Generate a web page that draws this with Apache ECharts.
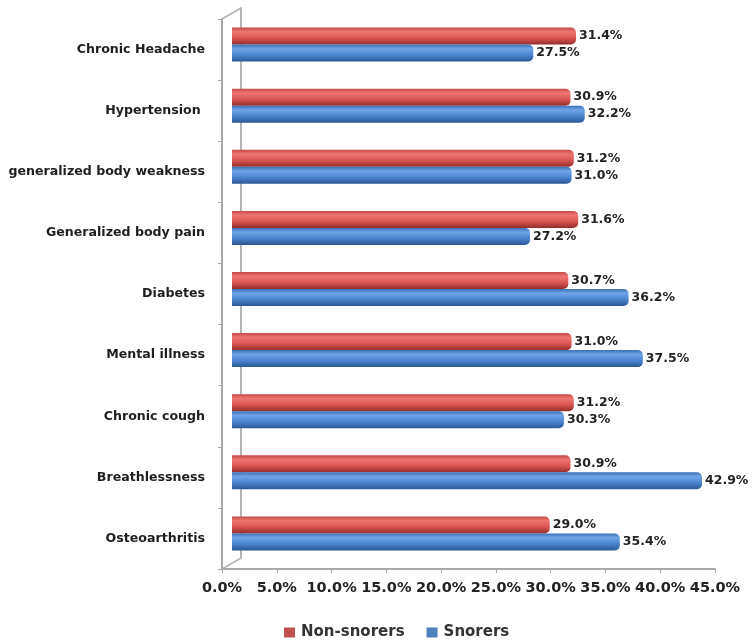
<!DOCTYPE html>
<html>
<head>
<meta charset="utf-8">
<script src="https://cdn.jsdelivr.net/npm/echarts@6/dist/echarts.min.js"></script>
<style>
  html, body { margin: 0; padding: 0; background: #fff; }
  #chart { width: 753px; height: 643px; }
</style>
</head>
<body>
<div id="chart"></div>
<script>
// categories top to bottom
const categories = [
  'Chronic Headache',
  'Hypertension ',
  'generalized body weakness',
  'Generalized body pain',
  'Diabetes',
  'Mental illness',
  'Chronic cough',
  'Breathlessness',
  'Osteoarthritis'
]
const nonSnorers = [31.4, 30.9, 31.2, 31.6, 30.7, 31.0, 31.2, 30.9, 29.0]
const snorers = [27.5, 32.2, 31.0, 27.2, 36.2, 37.5, 30.3, 42.9, 35.4]
const xTicks = { min: 0, max: 45, interval: 5 }

const font = 'DejaVu Sans'
const axisGray = '#a8a8a8'

// cylinder look: light band near the top, dark underside
function tube (edge, light, mid, dark) {
  return new echarts.graphic.LinearGradient(0, 0, 0, 1, [
    { offset: 0, color: edge },
    { offset: 0.25, color: light },
    { offset: 0.6, color: mid },
    { offset: 1, color: dark }
  ])
}

const barLabel = {
  show: true,
  position: 'right',
  distance: 3,
  color: '#222',
  fontFamily: font,
  fontWeight: 'bold',
  fontSize: 12.5,
  formatter: p => p.value.toFixed(1) + '%'
}

const chart = echarts.init(document.getElementById('chart'))
chart.setOption({
  animation: false,
  legend: {
    left: 279,
    top: 620,
    itemWidth: 11,
    itemHeight: 10,
    itemGap: 22,
    icon: 'rect',
    textStyle: { fontFamily: font, fontSize: 15, fontWeight: 'bold', color: '#333', padding: [0, 0, 0, 1] },
    data: [
      { name: 'Non-snorers', itemStyle: { color: '#C0504D' } },
      { name: 'Snorers', itemStyle: { color: '#4F81BD' } }
    ]
  },
  grid: [
    // front walls with labels
    { left: 222, top: 19, width: 493, height: 550 },
    // bars sit a little deeper in the box
    { left: 232, top: 14, width: 493, height: 550 },
    // back wall
    { left: 241, top: 8, width: 493, height: 550 }
  ],
  xAxis: [
    {
      gridIndex: 0,
      type: 'value',
      min: xTicks.min,
      max: xTicks.max,
      interval: xTicks.interval,
      splitLine: { show: false },
      axisLine: { show: true, lineStyle: { color: axisGray, width: 2 } },
      axisTick: { show: true, length: 4, lineStyle: { color: axisGray } },
      axisLabel: {
        margin: 12,
        color: '#222',
        fontFamily: font,
        fontWeight: 'bold',
        fontSize: 14.5,
        formatter: v => v.toFixed(1) + '%'
      }
    },
    {
      gridIndex: 1,
      type: 'value',
      min: xTicks.min,
      max: xTicks.max,
      interval: xTicks.interval,
      show: false
    },
    {
      gridIndex: 2,
      type: 'value',
      min: xTicks.min,
      max: xTicks.max,
      show: false
    }
  ],
  yAxis: [
    {
      gridIndex: 0,
      type: 'category',
      inverse: true,
      data: categories,
      axisLine: { show: true, lineStyle: { color: axisGray, width: 2 } },
      axisTick: { show: true, length: 4, lineStyle: { color: axisGray } },
      axisLabel: {
        margin: 17,
        color: '#1e1e1e',
        fontFamily: font,
        fontWeight: 'bold',
        fontSize: 12.6
      }
    },
    {
      gridIndex: 1,
      type: 'category',
      inverse: true,
      data: categories,
      show: false
    },
    {
      gridIndex: 2,
      type: 'category',
      inverse: true,
      data: categories,
      axisLine: { show: true, lineStyle: { color: '#b4b4b4', width: 2 } },
      axisTick: { show: false },
      axisLabel: { show: false }
    }
  ],
  graphic: [
    // depth edges of the 3D box
    { type: 'line', shape: { x1: 222, y1: 19, x2: 241, y2: 8 }, style: { stroke: '#b4b4b4', lineWidth: 1.5 }, z: 0 },
    { type: 'line', shape: { x1: 222, y1: 569, x2: 241, y2: 558 }, style: { stroke: '#b4b4b4', lineWidth: 1.5 }, z: 0 }
  ],
  series: [
    {
      name: 'Non-snorers',
      type: 'bar',
      xAxisIndex: 1,
      yAxisIndex: 1,
      barWidth: 17,
      barGap: '0%',
      data: nonSnorers,
      itemStyle: {
        color: tube('#c44a47', '#ee7673', '#dc5753', '#952d2a'),
        borderRadius: [0, 5, 5, 0]
      },
      label: barLabel
    },
    {
      name: 'Snorers',
      type: 'bar',
      xAxisIndex: 1,
      yAxisIndex: 1,
      barWidth: 17,
      barGap: '0%',
      data: snorers,
      itemStyle: {
        color: tube('#3b70b5', '#70a4e7', '#4c86d1', '#2b5895'),
        borderRadius: [0, 5, 5, 0]
      },
      label: barLabel
    }
  ]
})
</script>
</body>
</html>
